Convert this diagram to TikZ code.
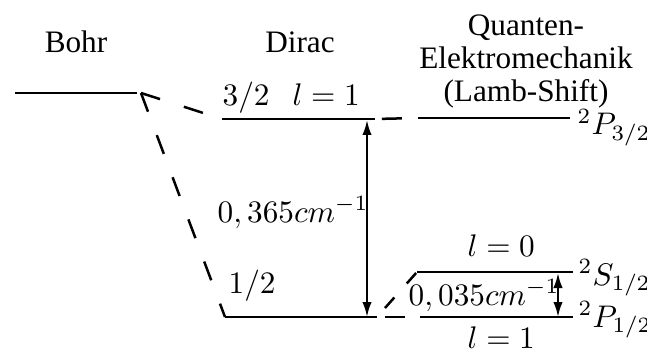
\documentclass[tikz,border=0pt]{standalone}
\usepackage{fontspec}
\setmainfont{Liberation Serif}
\usetikzlibrary{arrows.meta}
\begin{document}
\begin{tikzpicture}[x=0.32pt,y=-0.32pt,
  every node/.style={inner sep=0pt,font=\fontsize{10}{10.56}\selectfont},
  level/.style={line width=0.85pt},
  conn/.style={line width=0.8pt,dash pattern=on 6.4pt off 8pt},
  gap/.style={line width=0.7pt,{Latex[length=4.8pt,width=3pt]}-{Latex[length=4.8pt,width=3pt]}},
  lbl/.style={anchor=base west},
  head/.style={anchor=base,align=center}]
\useasboundingbox (0,0) rectangle (647,353);

% column headings
\node[head] (bohr) at (76,53) {Bohr};
\node[head] (dirac) at (300,53) {Dirac};
\node[head] (qed) at (526,102) {Quanten-\\Elektromechanik\\(Lamb-Shift)};

% level end points
\coordinate (bL) at (15,93);   \coordinate (bR) at (137,93);
\coordinate (bD) at (141,93);
\coordinate (d3L) at (222,119); \coordinate (d3R) at (375,119);
\coordinate (d1L) at (225,317); \coordinate (d1R) at (377,317);
\coordinate (p3L) at (418,118); \coordinate (p3R) at (570,118);
\coordinate (sL) at (417,272);  \coordinate (sR) at (573,272);
\coordinate (pL) at (420,317);  \coordinate (pR) at (573,317);

% levels
\draw[level] (bL) -- (bR);
\draw[level] (d3L) -- (d3R);
\draw[level] (d1L) -- (d1R);
\draw[level] (p3L) -- (p3R);
\draw[level] (sL) -- (sR);
\draw[level] (pL) -- (pR);

% dashed correspondences
\draw[conn] (bD) -- (d3L);
\draw[conn] (bD) -- (d1L);
\draw[conn,dash phase=12.2pt] (d3R) -- (p3L);
\draw[conn,dash phase=11.8pt] (d1R) -- (pL);
\draw[line width=0.8pt,dash pattern=on 4.5pt off 6pt,dash phase=6.66pt] (d1R) -- (sL);

% splittings
\coordinate (a3) at (367,120);
\coordinate (a1) at (367,317);
\draw[gap] (a3) -- (a1);
\coordinate (s3) at (558,273);
\coordinate (s1) at (558,317);
\draw[gap] (s3) -- (s1);

% labels
\node[lbl] (j32) at (222,106) {$3/2$};
\node[lbl] (l1a) at (292,106) {$l=1$};
\node[lbl] (j12) at (228,293) {$1/2$};
\node[lbl] (fs) at (217,222) {$0,365cm^{-1}$};
\node[lbl] (l0) at (467,256) {$l=0$};
\node[lbl] (ls) at (408,305) {$0,035cm^{-1}$};
\node[lbl] (l1b) at (467,348) {$l=1$};
\node[lbl] (P32) at (577,135) {${}^2P_{3/2}$};
\node[lbl] (S12) at (578,285) {${}^2S_{1/2}$};
\node[lbl] (P12) at (578,327) {${}^2P_{1/2}$};
\end{tikzpicture}
\end{document}
